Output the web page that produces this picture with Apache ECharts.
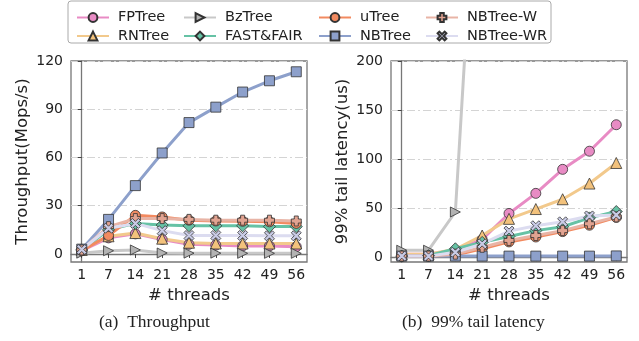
<!DOCTYPE html>
<html><head><meta charset="utf-8">
<script src="https://cdn.jsdelivr.net/npm/echarts@6/dist/echarts.min.js"></script>
<style>html,body{margin:0;padding:0;background:#fff}#c{width:639px;height:341px}</style>
</head><body><div id="c"></div>
<script>
const threads = [1, 7, 14, 21, 28, 35, 42, 49, 56];
const names = ['FPTree', 'RNTree', 'BzTree', 'FAST&FAIR', 'uTree', 'NBTree', 'NBTree-W', 'NBTree-WR'];
// Throughput (Mops/s)
const tpFPTree   = [2, 10, 12.5, 9, 6, 5.5, 5, 5, 4.5];
const tpRNTree   = [2.5, 11, 13, 9.5, 7, 6.5, 6.5, 6.5, 6.5];
const tpBzTree   = [0.5, 2, 2.5, 0.6, 0.5, 0.5, 0.4, 0.4, 0.4];
const tpFASTFAIR = [2.5, 15, 19, 18, 17.5, 17.5, 17.5, 17, 17];
const tpUTree    = [2, 11.5, 24, 23, 21, 20.5, 20.3, 20, 19];
const tpNBTree   = [3, 21.5, 42.5, 62.8, 81.7, 91.3, 100.7, 107.7, 113.3];
const tpNBTreeW  = [2.5, 17, 22, 22, 21.5, 21, 21, 21, 20.5];
const tpNBTreeWR = [2.8, 16, 19, 14.5, 11.5, 11.5, 11.5, 11.3, 11.3];
// 99% tail latency (us)
const latFPTree   = [3, 3, 7, 18, 44.5, 65, 89.5, 108, 135];
const latRNTree   = [3, 3, 8, 22, 39, 49, 59, 75, 96];
const latBzTree   = [7, 7, 46, 500, 700, 900, 1100, 1300, 1500];
const latFASTFAIR = [1, 1.5, 8.5, 15, 21, 27, 31, 40, 46.5];
const latUTree    = [1, 1, 2, 8.5, 15.5, 20.5, 26, 32.5, 40.5];
const latNBTree   = [1, 1, 1, 1, 1, 1, 1, 1, 1.2];
const latNBTreeW  = [1, 1, 3, 10, 17, 22, 27, 34, 41];
const latNBTreeWR = [1, 1, 5, 13.5, 26.5, 32, 36, 42, 43];
const tpTicks  = [0, 30, 60, 90, 120];
const latTicks = [0, 50, 100, 150, 200];

const tpData  = [tpFPTree, tpRNTree, tpBzTree, tpFASTFAIR, tpUTree, tpNBTree, tpNBTreeW, tpNBTreeWR];
const latData = [latFPTree, latRNTree, latBzTree, latFASTFAIR, latUTree, latNBTree, latNBTreeW, latNBTreeWR];

const styles = {
  'FPTree':    {line: '#e88bc4', fill: '#e88bc4', symbol: 'circle', size: 10},
  'RNTree':    {line: '#f2c98c', fill: '#f3c27c', symbol: 'triangle', size: 11},
  'BzTree':    {line: '#c8c8c8', fill: '#b3b3b3', symbol: 'path://M0,0L10,5L0,10Z', size: 10},
  'FAST&FAIR': {line: '#66c2a5', fill: '#66c2a5', symbol: 'diamond', size: 12},
  'uTree':     {line: '#f28a60', fill: '#f28a60', symbol: 'circle', size: 10},
  'NBTree':    {line: '#8da0cb', fill: '#8da0cb', symbol: 'rect', size: 10},
  'NBTree-W':  {line: '#e8b4a6', fill: '#e2a391', symbol: 'path://M3,0H7V3H10V7H7V10H3V7H0V3H3Z', size: 10},
  'NBTree-WR': {line: '#dcdcf0', fill: '#c9cbe6', symbol: 'path://M2,0L5,3L8,0L10,2L7,5L10,8L8,10L5,7L2,10L0,8L3,5L0,2Z', size: 10}
};

const font = 'DejaVu Sans';
function mkSeries(data, idx) {
  return names.map((n, k) => ({
    name: n, type: 'line', xAxisIndex: idx, yAxisIndex: idx,
    data: data[k].map((v, i) => [i, v]),
    symbol: styles[n].symbol, symbolSize: styles[n].size,
    lineStyle: {color: styles[n].line, width: 3},
    itemStyle: {color: styles[n].fill, borderColor: '#333', borderWidth: 0.8},
    emphasis: {disabled: true}, animation: false, clip: true, z: 2
  }));
}
function xAxis(gi) {
  return {
    type: 'value', gridIndex: gi, min: -0.4, max: 8.4,
    name: '# threads', nameLocation: 'middle', nameGap: 25,
    nameTextStyle: {fontFamily: font, fontSize: 16.5, color: '#222'},
    axisLine: {show: true, lineStyle: {color: '#777', width: 1.3}},
    axisTick: {show: true, length: 4, lineStyle: {color: '#444'}, customValues: threads.map((t, i) => i)},
    axisLabel: {fontFamily: font, fontSize: 14, color: '#222', margin: 6,
      customValues: threads.map((t, i) => i), formatter: v => threads[Math.round(v)]},
    splitLine: {show: false}
  };
}
function yAxis(gi, ticks, min, max, name) {
  return {
    type: 'value', gridIndex: gi, min: min, max: max,
    name: name, nameLocation: 'middle', nameGap: 40,
    nameTextStyle: {fontFamily: font, fontSize: 16.5, color: '#222'},
    axisLine: {show: true, lineStyle: {color: '#777', width: 1.3}},
    axisTick: {show: true, length: 4, lineStyle: {color: '#444'}, customValues: ticks},
    axisLabel: {fontFamily: font, fontSize: 14, color: '#222', margin: 8, customValues: ticks},
    splitLine: {show: true, lineStyle: {color: '#d4d4d4', width: 1, type: [8, 3, 2, 3]}}
  };
}
const cols = [[0, 1, 71], [2, 3, 178], [4, 5, 313], [6, 7, 420]];
const legends = cols.map(c => ({
  orient: 'vertical', left: c[2], top: 5, itemGap: 3.5,
  itemWidth: 32, itemHeight: 11,
  data: [names[c[0]], names[c[1]]],
  textStyle: {fontFamily: font, fontSize: 14.5, color: '#222', lineHeight: 14, padding: [0, 0, 0, 4]},
  selectedMode: false
}));

const chart = echarts.init(document.getElementById('c'), null, {renderer: 'canvas'});
chart.setOption({
  animation: false,
  backgroundColor: '#fff',
  legend: legends,
  grid: [
    {left: 71, top: 61, width: 236, height: 201, show: true, borderColor: '#777', borderWidth: 1.3, containLabel: false},
    {left: 391, top: 61, width: 236, height: 201, show: true, borderColor: '#777', borderWidth: 1.3, containLabel: false}
  ],
  xAxis: [xAxis(0), xAxis(1)],
  yAxis: [yAxis(0, tpTicks, -5, 120, 'Throughput(Mops/s)'), yAxis(1, latTicks, -5, 200, '99% tail latency(us)')],
  series: mkSeries(tpData, 0).concat(mkSeries(latData, 1)),
  graphic: [
    {type: 'rect', shape: {x: 68, y: 1, width: 483, height: 42, r: 3}, style: {fill: 'none', stroke: '#aaa', lineWidth: 1}, z: -1},
    {type: 'text', left: 99, top: 313, style: {text: '(a)  Throughput', font: '17.5px "Liberation Serif"', fill: '#222'}},
    {type: 'text', left: 402, top: 313, style: {text: '(b)  99% tail latency', font: '17.5px "Liberation Serif"', fill: '#222'}}
  ]
});
</script></body></html>
